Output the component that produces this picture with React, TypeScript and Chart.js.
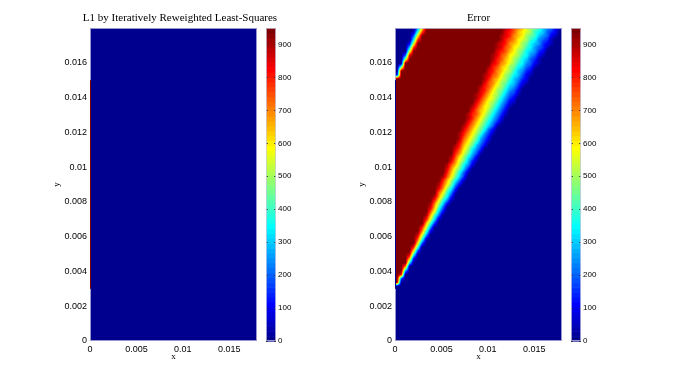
import React, { useEffect, useRef } from 'react';
import { Chart, registerables } from 'chart.js';

Chart.register(...registerables);

// ---------------- data ----------------
const xRange = [0, 0.018];
const yRange = [0, 0.018];
const xTickValues = [0, 0.005, 0.01, 0.015];
const xTickLabels = ['0', '0.005', '0.01', '0.015'];
const yTickValues = [0, 0.002, 0.004, 0.006, 0.008, 0.01, 0.012, 0.014, 0.016];
const yTickLabels = ['0', '0.002', '0.004', '0.006', '0.008', '0.01', '0.012', '0.014', '0.016'];
const colorbarRange = [0, 950];
const colorbarTickValues = [0, 100, 200, 300, 400, 500, 600, 700, 800, 900];
const colorbarTickLabels = ['0', '100', '200', '300', '400', '500', '600', '700', '800', '900'];
const levelValue = 50; // each code 0-9A-J is one step of 50 (J = 950)
const leftTitle = 'L1 by Iteratively Reweighted Least-Squares';
const rightTitle = 'Error';
const xLabel = 'x';
const yLabel = 'y';

// boundary column at x = 0 (y from, y to, value) for each panel
const edgeSpan = [0.003, 0.015];
const l1EdgeValue = 950;
const errorEdgeValue = 0;

// L1 solution grid (uniform), top row first; cell centres: x0 + j*dx, y0 + m*dy (m from bottom)
const l1Rows = ['0000', '0000', '0000', '0000'];
const l1Geom = { x0: 0.00225, dx: 0.0045, y0: 0.00225, dy: 0.0045 };

// Error grid: 40 columns x 80 rows, top row (y = 0.018) first
const errorRows = [
  '00000 5CIJJ JJJJJ JJJJJ JJJJJ JIHFE DBA98 65421',
  '00001 8FJJJ JJJJJ JJJJJ JJJJJ JHGFD CBA87 64320',
  '00004 CJJJJ JJJJJ JJJJJ JJJJJ IHGED CA986 54210',
  '00007 GJJJJ JJJJJ JJJJJ JJJJJ IGFEC BA875 43100',
  '0002B JJJJJ JJJJJ JJJJJ JJJJI HGEDC A9765 32100',
  '0006G JJJJJ JJJJJ JJJJJ JJJJI HFECB A8754 31000',
  '000BJ JJJJJ JJJJJ JJJJJ JJJJH GFDCA 97653 20000',
  '004HJ JJJJJ JJJJJ JJJJJ JJJIH FECBA 87542 10000',
  '00AJJ JJJJJ JJJJJ JJJJJ JJJIG FDCA9 76431 00000',
  '00JJJ JJJJJ JJJJJ JJJJJ JJJHG EDBA8 75421 00000',
  '09JJJ JJJJJ JJJJJ JJJJJ JJIGF DCA97 64310 00000',
  '0JJJJ JJJJJ JJJJJ JJJJJ JJHGE DBA86 53200 00000',
  '2JJJJ JJJJJ JJJJJ JJJJJ JIHFE CA976 42100 00000',
  'JJJJJ JJJJJ JJJJJ JJJJJ JIGED BA865 32000 00000',
  'JJJJJ JJJJJ JJJJJ JJJJJ JHFEC A9764 21000 00000',
  'JJJJJ JJJJJ JJJJJ JJJJJ IGFDB A8653 10000 00000',
  'JJJJJ JJJJJ JJJJJ JJJJJ HGECA 97542 00000 00000',
  'JJJJJ JJJJJ JJJJJ JJJJI HFDBA 86431 00000 00000',
  'JJJJJ JJJJJ JJJJJ JJJJI GECB9 75320 00000 00000',
  'JJJJJ JJJJJ JJJJJ JJJJH FDBA8 64210 00000 00000',
  'JJJJJ JJJJJ JJJJJ JJJIG ECB97 53100 00000 00000',
  'JJJJJ JJJJJ JJJJJ JJJHF DCA86 42000 00000 00000',
  'JJJJJ JJJJJ JJJJJ JJIGF DB975 31000 00000 00000',
  'JJJJJ JJJJJ JJJJJ JJIGE CA864 20000 00000 00000',
  'JJJJJ JJJJJ JJJJJ JJHFD B9753 10000 00000 00000',
  'JJJJJ JJJJJ JJJJJ JIGEC A8641 00000 00000 00000',
  'JJJJJ JJJJJ JJJJJ JHFDB 97420 00000 00000 00000',
  'JJJJJ JJJJJ JJJJJ IGECA 85310 00000 00000 00000',
  'JJJJJ JJJJJ JJJJJ IFDB9 64200 00000 00000 00000',
  'JJJJJ JJJJJ JJJJJ HECA8 53100 00000 00000 00000',
  'JJJJJ JJJJJ JJJJI GDB96 42000 00000 00000 00000',
  'JJJJJ JJJJJ JJJJH FCA75 30000 00000 00000 00000',
  'JJJJJ JJJJJ JJJJG EB964 10000 00000 00000 00000',
  'JJJJJ JJJJJ JJJIF CA752 00000 00000 00000 00000',
  'JJJJJ JJJJJ JJJHE B9631 00000 00000 00000 00000',
  'JJJJJ JJJJJ JJIFD A7520 00000 00000 00000 00000',
  'JJJJJ JJJJJ JJHEB 96300 00000 00000 00000 00000',
  'JJJJJ JJJJJ JJGDA 74100 00000 00000 00000 00000',
  'JJJJJ JJJJJ JIFC9 63000 00000 00000 00000 00000',
  'JJJJJ JJJJJ JGDA7 41000 00000 00000 00000 00000',
  'JJJJJ JJJJJ IFC95 20000 00000 00000 00000 00000',
  'JJJJJ JJJJJ HEA73 00000 00000 00000 00000 00000',
  'JJJJJ JJJJJ FC851 00000 00000 00000 00000 00000',
  'JJJJJ JJJJI EA730 00000 00000 00000 00000 00000',
  'JJJJJ JJJJG C8510 00000 00000 00000 00000 00000',
  'JJJJJ JJJIE A6200 00000 00000 00000 00000 00000',
  'JJJJJ JJJHD 84000 00000 00000 00000 00000 00000',
  'JJJJJ JJJFB 62000 00000 00000 00000 00000 00000',
  'JJJJJ JJID8 40000 00000 00000 00000 00000 00000',
  'JJJJJ JJGB6 10000 00000 00000 00000 00000 00000',
  'JJJJJ JJD83 00000 00000 00000 00000 00000 00000',
  'JJJJJ JGB50 00000 00000 00000 00000 00000 00000',
  'JJJJJ JE820 00000 00000 00000 00000 00000 00000',
  'JJJJJ HB500 00000 00000 00000 00000 00000 00000',
  'JJJJJ F8100 00000 00000 00000 00000 00000 00000',
  'JJJJJ C4000 00000 00000 00000 00000 00000 00000',
  'JJJJG 80000 00000 00000 00000 00000 00000 00000',
  'JJJJC 30000 00000 00000 00000 00000 00000 00000',
  'JJJH7 00000 00000 00000 00000 00000 00000 00000',
  'JJJD2 00000 00000 00000 00000 00000 00000 00000',
  'JJJ70 00000 00000 00000 00000 00000 00000 00000',
  'JJE00 00000 00000 00000 00000 00000 00000 00000',
  'JJ600 00000 00000 00000 00000 00000 00000 00000',
  'JH000 00000 00000 00000 00000 00000 00000 00000',
  'J4000 00000 00000 00000 00000 00000 00000 00000',
  'J0000 00000 00000 00000 00000 00000 00000 00000',
  '00000 00000 00000 00000 00000 00000 00000 00000',
  '00000 00000 00000 00000 00000 00000 00000 00000',
  '00000 00000 00000 00000 00000 00000 00000 00000',
  '00000 00000 00000 00000 00000 00000 00000 00000',
  '00000 00000 00000 00000 00000 00000 00000 00000',
  '00000 00000 00000 00000 00000 00000 00000 00000',
  '00000 00000 00000 00000 00000 00000 00000 00000',
  '00000 00000 00000 00000 00000 00000 00000 00000',
  '00000 00000 00000 00000 00000 00000 00000 00000',
  '00000 00000 00000 00000 00000 00000 00000 00000',
  '00000 00000 00000 00000 00000 00000 00000 00000',
  '00000 00000 00000 00000 00000 00000 00000 00000',
  '00000 00000 00000 00000 00000 00000 00000 00000',
  '00000 00000 00000 00000 00000 00000 00000 00000',
];
const errorGeom = { x0: 0.000225, dx: 0.00045, y0: 0.000225, dy: 0.000225 };

// ---------------- helpers ----------------
const SANS = '"Liberation Sans", Arial, Helvetica, sans-serif';
const SERIF = '"Liberation Serif", "Times New Roman", serif';
const FRAME = 'rgba(200,200,225,0.75)';

function jet64(k: number): [number, number, number] {
  const n = k + 1;
  const r = n < 25 ? 0 : n <= 40 ? (n - 24) / 16 : n <= 55 ? 1 : (72 - n) / 16;
  const g = n < 9 ? 0 : n <= 24 ? (n - 8) / 16 : n <= 39 ? 1 : n <= 55 ? (56 - n) / 16 : 0;
  const b = n <= 8 ? (n + 8) / 16 : n <= 24 ? 1 : n <= 39 ? (40 - n) / 16 : 0;
  return [Math.round(r * 255), Math.round(g * 255), Math.round(b * 255)];
}

function colorIndex(v: number): number {
  const [lo, hi] = colorbarRange;
  return Math.max(0, Math.min(63, Math.floor(((v - lo) / (hi - lo)) * 64)));
}

function decodeGrid(rows: string[]): number[][] {
  // values indexed [m][j], m counted from the bottom row
  const g = rows.map((r) => r.replace(/\s+/g, '').split('').map((ch) => parseInt(ch, 20) * levelValue));
  return g.reverse();
}

function makeHeatmapPlugin(rows: string[], geom: { x0: number; dx: number; y0: number; dy: number }) {
  const vals = decodeGrid(rows);
  const nR = vals.length;
  const nC = vals[0].length;
  const clamp = (v: number, lo: number, hi: number) => Math.max(lo, Math.min(hi, v));
  return {
    id: 'heatmap',
    beforeDatasetsDraw(chart: any) {
      const xs = chart.scales.x;
      const ys = chart.scales.y;
      const a = chart.chartArea;
      const left = Math.round(a.left);
      const top = Math.round(a.top);
      const w = Math.round(a.right) - left;
      const h = Math.round(a.bottom) - top;
      const off = document.createElement('canvas');
      off.width = w;
      off.height = h;
      const octx = off.getContext('2d')!;
      const img = octx.createImageData(w, h);
      const fxs: number[] = [];
      for (let i = 0; i < w; i++) {
        const x = xs.getValueForPixel(left + i + 0.5);
        fxs.push(clamp((x - geom.x0) / geom.dx, 0, nC - 1));
      }
      for (let k = 0; k < h; k++) {
        const y = ys.getValueForPixel(top + k + 0.5);
        const fy = clamp((y - geom.y0) / geom.dy, 0, nR - 1);
        const m0 = Math.floor(fy);
        const m1 = Math.min(nR - 1, m0 + 1);
        const ty = fy - m0;
        for (let i = 0; i < w; i++) {
          const fx = fxs[i];
          const j0 = Math.floor(fx);
          const j1 = Math.min(nC - 1, j0 + 1);
          const tx = fx - j0;
          const v =
            (vals[m0][j0] * (1 - tx) + vals[m0][j1] * tx) * (1 - ty) +
            (vals[m1][j0] * (1 - tx) + vals[m1][j1] * tx) * ty;
          const [R, G, B] = jet64(colorIndex(v));
          const p = (k * w + i) * 4;
          img.data[p] = R;
          img.data[p + 1] = G;
          img.data[p + 2] = B;
          img.data[p + 3] = 255;
        }
      }
      octx.putImageData(img, 0, 0);
      chart.ctx.drawImage(off, left, top);
    },
  };
}

const framePlugin = {
  id: 'frame',
  afterDatasetsDraw(chart: any) {
    const { ctx, chartArea: a } = chart;
    ctx.save();
    ctx.strokeStyle = FRAME;
    ctx.lineWidth = 1;
    ctx.strokeRect(a.left + 0.5, a.top + 0.5, a.right - a.left - 1, a.bottom - a.top - 1);
    ctx.restore();
  },
};

function makeEdgePlugin(value: number) {
  return {
    id: 'edgeColumn',
    afterDatasetsDraw(chart: any) {
      const { ctx } = chart;
      const xs = chart.scales.x;
      const ys = chart.scales.y;
      const x = Math.round(xs.getPixelForValue(xRange[0]));
      const yTop = ys.getPixelForValue(edgeSpan[1]);
      const yBot = ys.getPixelForValue(edgeSpan[0]);
      const [R, G, B] = jet64(colorIndex(value));
      ctx.save();
      ctx.fillStyle = `rgb(${R},${G},${B})`;
      ctx.fillRect(x, yTop, 1, yBot - yTop);
      ctx.restore();
    },
  };
}

function makeTitlePlugin(text: string, dx: number) {
  return {
    id: 'figTitle',
    afterDraw(chart: any) {
      const { ctx, chartArea: a } = chart;
      ctx.save();
      ctx.font = `11px ${SERIF}`;
      ctx.fillStyle = '#000';
      ctx.textAlign = 'center';
      ctx.textBaseline = 'middle';
      ctx.fillText(text, (a.left + a.right) / 2 + dx, 18);
      ctx.restore();
    },
  };
}

const colorbarPlugin = {
  id: 'colorbar',
  beforeDatasetsDraw(chart: any) {
    const { ctx, chartArea: a } = chart;
    const ys = chart.scales.y;
    const [lo, hi] = colorbarRange;
    ctx.save();
    for (let k = 0; k < 64; k++) {
      const v0 = lo + ((hi - lo) * k) / 64;
      const v1 = lo + ((hi - lo) * (k + 1)) / 64;
      const yA = ys.getPixelForValue(v0);
      const yB = ys.getPixelForValue(v1);
      const [R, G, B] = jet64(k);
      ctx.fillStyle = `rgb(${R},${G},${B})`;
      ctx.fillRect(a.left, yB, a.right - a.left, yA - yB + 0.6);
    }
    ctx.strokeStyle = 'rgba(40,40,40,0.8)';
    ctx.lineWidth = 1;
    for (const v of colorbarTickValues) {
      const y = Math.round(ys.getPixelForValue(v)) + 0.5;
      ctx.beginPath();
      ctx.moveTo(a.left, y);
      ctx.lineTo(a.left + 2, y);
      ctx.moveTo(a.right - 2, y);
      ctx.lineTo(a.right, y);
      ctx.stroke();
    }
    ctx.strokeStyle = FRAME;
    ctx.strokeRect(a.left + 0.5, a.top + 0.5, a.right - a.left - 1, a.bottom - a.top - 1);
    ctx.restore();
  },
};

function heatmapConfig(rows: string[], geom: any, edgeValue: number, title: string, dx: number): any {
  return {
    type: 'scatter',
    data: { datasets: [] },
    options: {
      responsive: false,
      animation: false,
      devicePixelRatio: 1,
      events: [],
      layout: { padding: { top: 28, right: 73, bottom: 0, left: 0 } },
      plugins: { legend: { display: false }, tooltip: { enabled: false }, title: { display: false } },
      scales: {
        x: {
          type: 'linear',
          position: 'bottom',
          min: xRange[0],
          max: xRange[1],
          grid: { display: false, drawTicks: false },
          border: { display: false },
          afterBuildTicks: (s: any) => {
            s.ticks = xTickValues.map((v) => ({ value: v }));
          },
          afterFit: (s: any) => {
            s.height = 43;
          },
          ticks: {
            autoSkip: false,
            maxRotation: 0,
            minRotation: 0,
            padding: 3,
            color: '#000',
            font: { family: SANS, size: 9 },
            callback: (_v: any, i: number) => xTickLabels[i],
          },
          title: {
            display: true,
            text: xLabel,
            color: '#000',
            font: { family: SERIF, size: 9 },
            padding: { top: 0, bottom: 22 },
          },
        },
        y: {
          type: 'linear',
          position: 'left',
          min: yRange[0],
          max: yRange[1],
          grid: { display: false, drawTicks: false },
          border: { display: false },
          afterBuildTicks: (s: any) => {
            s.ticks = yTickValues.map((v) => ({ value: v }));
          },
          afterFit: (s: any) => {
            s.width = 90;
          },
          ticks: {
            autoSkip: false,
            padding: 3,
            color: '#000',
            font: { family: SANS, size: 9 },
            callback: (_v: any, i: number) => yTickLabels[i],
          },
          title: {
            display: true,
            text: yLabel,
            color: '#000',
            font: { family: SERIF, size: 9 },
            padding: { top: 51.6, bottom: 0 },
          },
        },
      },
    },
    plugins: [makeHeatmapPlugin(rows, geom), framePlugin, makeEdgePlugin(edgeValue), makeTitlePlugin(title, dx)],
  };
}

function colorbarConfig(): any {
  return {
    type: 'scatter',
    data: { datasets: [] },
    options: {
      responsive: false,
      animation: false,
      devicePixelRatio: 1,
      events: [],
      layout: { padding: { top: 28, right: 0, bottom: 43, left: 10 } },
      plugins: { legend: { display: false }, tooltip: { enabled: false } },
      scales: {
        x: { type: 'linear', display: false, min: 0, max: 1 },
        y: {
          type: 'linear',
          position: 'right',
          min: colorbarRange[0],
          max: colorbarRange[1],
          grid: { display: false, drawTicks: false },
          border: { display: false },
          afterBuildTicks: (s: any) => {
            s.ticks = colorbarTickValues.map((v) => ({ value: v }));
          },
          afterFit: (s: any) => {
            s.width = 40;
          },
          ticks: {
            autoSkip: false,
            padding: 2,
            color: '#000',
            font: { family: SANS, size: 8 },
            callback: (_v: any, i: number) => colorbarTickLabels[i],
          },
        },
      },
    },
    plugins: [colorbarPlugin],
  };
}

const panels: any[] = [
  { key: 'l1', left: 0, width: 330, kind: 'heat', rows: l1Rows, geom: l1Geom, edge: l1EdgeValue, title: leftTitle, dx: 6.5 },
  { key: 'cb1', left: 256, width: 60, kind: 'cb' },
  { key: 'err', left: 305, width: 330, kind: 'heat', rows: errorRows, geom: errorGeom, edge: errorEdgeValue, title: rightTitle, dx: 0 },
  { key: 'cb2', left: 561, width: 60, kind: 'cb' },
];

export default function App() {
  const refs = useRef<(HTMLCanvasElement | null)[]>([]);

  useEffect(() => {
    const charts: Chart[] = [];
    panels.forEach((p, i) => {
      const c = refs.current[i];
      if (!c) return;
      const cfg = p.kind === 'heat' ? heatmapConfig(p.rows, p.geom, p.edge, p.title, p.dx) : colorbarConfig();
      charts.push(new Chart(c, cfg));
    });
    return () => charts.forEach((ch) => ch.destroy());
  }, []);

  return (
    <div
      style={{
        position: 'fixed',
        left: 0,
        top: 0,
        width: 692,
        height: 384,
        background: '#fff',
        overflow: 'hidden',
      }}
    >
      {panels.map((p, i) => (
        <canvas
          key={p.key}
          ref={(el) => {
            refs.current[i] = el;
          }}
          width={p.width}
          height={384}
          style={{ position: 'absolute', left: p.left, top: 0, width: p.width, height: 384 }}
        />
      ))}
    </div>
  );
}
